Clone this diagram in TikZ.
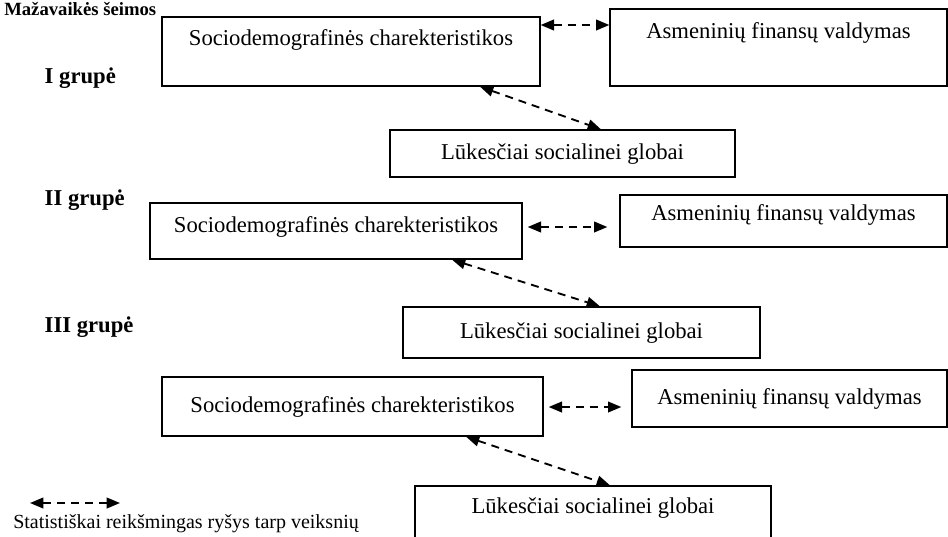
\documentclass[tikz,border=0pt]{standalone}
\usepackage{fontspec}
\setmainfont{Liberation Serif}
\usepackage{tikz}
\usetikzlibrary{arrows.meta,calc}

\tikzset{
  box/.style={rectangle,draw,line width=1pt,inner sep=3pt,text height=12pt,text depth=3.7pt},
  grp/.style={anchor=west,font=\fontsize{17}{20}\selectfont\bfseries},
  link/.style={dashed,dash pattern=on 6pt off 4.5pt,line width=1.4pt,
    arrows={Triangle[length=10pt,width=8pt]-Triangle[length=10pt,width=8pt]}}
}

\begin{document}
\begin{tikzpicture}[x=0.75pt,y=-0.75pt,font=\fontsize{17}{20}\selectfont]
\useasboundingbox (0,0) rectangle (948,536);

% Title and group labels
\node[font=\fontsize{14}{17}\selectfont\bfseries,anchor=base west,inner sep=0] (title) at (4,15) {Mažavaikės šeimos};
\node[grp] (g1) at (40,78) {I grupė};
\node[grp] (g2) at (40,200) {II grupė};
\node[grp] (g3) at (40,327) {III grupė};

% I grupe
\node[box,minimum width=283.5pt,minimum height=51.75pt,text depth=20.95pt] (s1) at (351,51.5) {Sociodemografinės charekteristikos};
\node[box,minimum width=252.75pt,minimum height=57.75pt,text depth=25.45pt] (a1) at (778.5,47.5) {Asmeninių finansų valdymas};
\node[box,minimum width=258.75pt,minimum height=35.25pt] (l1) at (562.5,153.5) {Lūkesčiai socialinei globai};

% II grupe
\node[box,minimum width=279pt,minimum height=42pt,text depth=9.7pt] (s2) at (336,231) {Sociodemografinės charekteristikos};
\node[box,minimum width=245.25pt,minimum height=39pt,text depth=12.7pt] (a2) at (783.5,221) {Asmeninių finansų valdymas};
\node[box,minimum width=267.75pt,minimum height=38.25pt] (l2) at (581.5,332.5) {Lūkesčiai socialinei globai};

% III grupe
\node[box,minimum width=285.75pt,minimum height=44.25pt] (s3) at (352.5,406.5) {Sociodemografinės charekteristikos};
\node[box,minimum width=236.25pt,minimum height=42.75pt] (a3) at (789.5,398.5) {Asmeninių finansų valdymas};
\node[box,minimum width=267pt,minimum height=45pt,text depth=15.7pt] (l3) at (593,516) {Lūkesčiai socialinei globai};

% Legend
\coordinate (k1) at (30,503);
\coordinate (k2) at (120,503);
\node[anchor=south west,inner sep=0,font=\fontsize{15}{18}\selectfont] (key) at (13,533) {Statistiškai reikšmingas ryšys tarp veiksnių};

% Connections
\draw[link] (s1.east |- 0,25) -- (a1.west |- 0,25);
\draw[link] ($(s1.south)+(129,0)$) -- ($(l1.north)+(38.5,0)$);
\draw[link,shorten <=3.75pt,shorten >=9pt] (s2.east |- 0,227) -- (a2.west |- 0,227);
\draw[link] ($(s2.south)+(116,0)$) -- ($(l2.north)+(18.5,0)$);
\draw[link,shorten <=3.75pt,shorten >=7.5pt] (s3.east |- 0,407) -- (a3.west |- 0,407);
\draw[link] ($(s3.south)+(113.5,0)$) -- ($(l3.north)+(17,0)$);
\draw[link] (k1) -- (k2);
\end{tikzpicture}
\end{document}
